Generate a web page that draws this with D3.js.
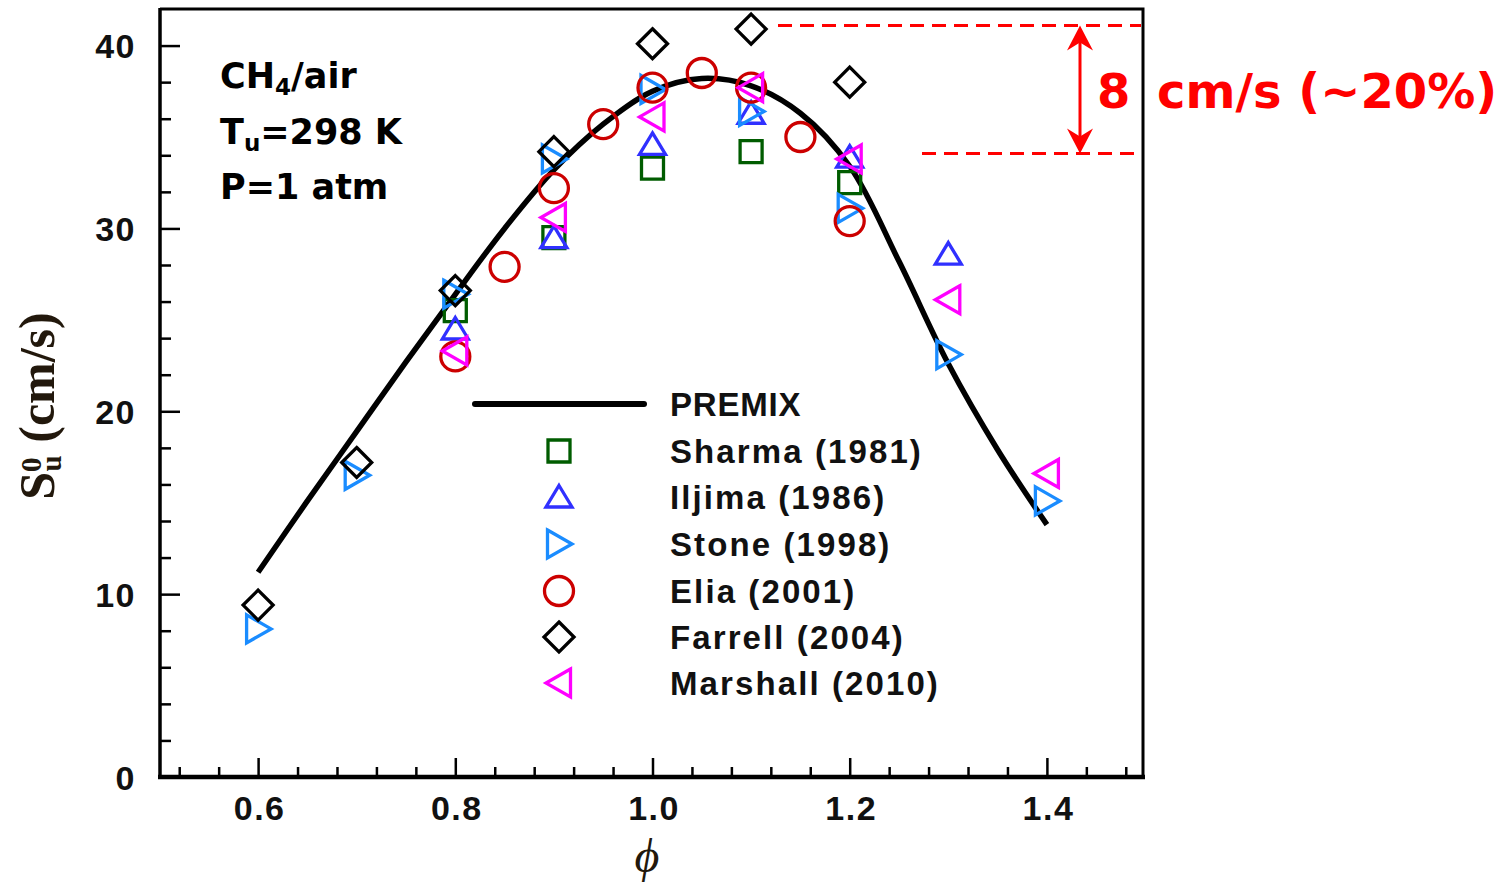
<!DOCTYPE html>
<html>
<head>
<meta charset="utf-8">
<script src="https://cdn.jsdelivr.net/npm/d3@7"></script>
<style>
  html, body { margin: 0; padding: 0; background: #fff; }
  svg { display: block; }
</style>
</head>
<body>
<svg id="chart" width="1506" height="885"></svg>
<script>
// Laminar burning velocity of CH4/air, Tu = 298 K, P = 1 atm

// PREMIX calculation
const premixPhi = [0.60, 0.65, 0.70, 0.75, 0.80, 0.85, 0.90, 0.95, 1.00, 1.05, 1.10, 1.15, 1.20, 1.25, 1.30, 1.35, 1.40];
const premixSu  = [11.2, 15.1, 18.9, 22.7, 26.4, 30.0, 33.2, 35.7, 37.5, 38.2, 37.8, 36.3, 33.4, 28.2, 22.6, 17.9, 13.8];

// Measurements
const sharmaPhi   = [0.8, 0.9, 1.0, 1.1, 1.2];
const sharmaSu    = [25.5, 29.5, 33.3, 34.2, 32.5];
const iijimaPhi   = [0.8, 0.9, 1.0, 1.1, 1.2, 1.3];
const iijimaSu    = [24.5, 29.5, 34.6, 36.3, 33.9, 28.6];
const stonePhi    = [0.6, 0.7, 0.8, 0.9, 1.0, 1.1, 1.2, 1.3, 1.4];
const stoneSu     = [8.1, 16.5, 26.4, 33.8, 37.6, 36.4, 31.1, 23.1, 15.1];
const eliaPhi     = [0.8, 0.85, 0.9, 0.95, 1.0, 1.05, 1.1, 1.15, 1.2];
const eliaSu      = [23.0, 27.9, 32.2, 35.7, 37.7, 38.5, 37.7, 35.0, 30.4];
const farrellPhi  = [0.6, 0.7, 0.8, 0.9, 1.0, 1.1, 1.2];
const farrellSu   = [9.4, 17.2, 26.6, 34.2, 40.1, 40.9, 38.0];
const marshallPhi = [0.8, 0.9, 1.0, 1.1, 1.2, 1.3, 1.4];
const marshallSu  = [23.3, 30.6, 36.1, 37.7, 33.8, 26.1, 16.6];

const seriesNames = ["Sharma (1981)", "Iljima (1986)", "Stone (1998)", "Elia (2001)", "Farrell (2004)", "Marshall (2010)"];
const lineName = "PREMIX";

// Axis ticks
const xMajorTicks = [0.6, 0.8, 1.0, 1.2, 1.4];
const xTickLabels = ["0.6", "0.8", "1.0", "1.2", "1.4"];
const yMajorTicks = [0, 10, 20, 30, 40];

// Scatter spread annotation (cm/s)
const spreadTop = 41.1;
const spreadBottom = 34.1;
const spreadLabelNum = "8 ";
const spreadLabelRest = "cm/s (~20%)";

// ---------------------------------------------------------------
const svg = d3.select("#chart");
const x = d3.scaleLinear().domain([0.5, 1.5]).range([159.5, 1145.5]);
const y = d3.scaleLinear().domain([0, 42]).range([777, 9]);
const frameL = 160, frameR = 1143, frameT = 9, frameB = 777;

const zip = (a, b) => a.map((v, i) => [v, b[i]]);

// marker shapes (centred on the point)
const shapes = {
  square:   "M-11,-11H11V11H-11Z",
  triUp:    "M0,-11.5L13,10L-13,10Z",
  triRight: "M-11.5,-14L13,0L-11.5,14Z",
  circle:   d3.arc()({innerRadius: 0, outerRadius: 14.5, startAngle: 0, endAngle: 2 * Math.PI}),
  diamond:  "M0,-15L15,0L0,15L-15,0Z",
  triLeft:  "M11.5,-14L-13,0L11.5,14Z"
};

const series = [
  {name: seriesNames[0], data: zip(sharmaPhi, sharmaSu),     shape: "square",   color: "#005c00"},
  {name: seriesNames[1], data: zip(iijimaPhi, iijimaSu),     shape: "triUp",    color: "#3030ff"},
  {name: seriesNames[2], data: zip(stonePhi, stoneSu),       shape: "triRight", color: "#1a8cff"},
  {name: seriesNames[3], data: zip(eliaPhi, eliaSu),         shape: "circle",   color: "#cc0000"},
  {name: seriesNames[4], data: zip(farrellPhi, farrellSu),   shape: "diamond",  color: "#000000"},
  {name: seriesNames[5], data: zip(marshallPhi, marshallSu), shape: "triLeft",  color: "#ff00ff"}
];

const tickFont = "'Liberation Sans', Arial, sans-serif";
const boxFont = "'DejaVu Sans', Verdana, sans-serif";
const markerStroke = 3.3;

// --- ticks (inside the frame) -----------------------------------
const xMinor = d3.range(0.52, 1.4801, 0.04).filter(v => !xMajorTicks.some(m => Math.abs(m - v) < 1e-6));
const yMinor = d3.range(2, 42, 2).filter(v => v % 10 !== 0);

const xAxisMajor = d3.axisBottom(x).tickValues(xMajorTicks).tickSize(-19).tickFormat((d, i) => xTickLabels[i]).tickPadding(19);
const xAxisMinor = d3.axisBottom(x).tickValues(xMinor).tickSize(-10).tickFormat("");
const yAxisMajor = d3.axisLeft(y).tickValues(yMajorTicks).tickSize(-20).tickFormat(d3.format("d")).tickPadding(24);
const yAxisMinor = d3.axisLeft(y).tickValues(yMinor).tickSize(-11).tickFormat("");

function styleAxis(g) {
  g.select(".domain").remove();
  g.selectAll(".tick line").attr("stroke", "#000").attr("stroke-width", 2.5);
  g.selectAll(".tick text")
    .attr("fill", "#111")
    .style("font-family", tickFont)
    .style("font-weight", "bold")
    .style("font-size", "34px")
    .style("letter-spacing", "1.5px");
}

svg.append("g").attr("transform", `translate(0,${frameB})`).call(xAxisMinor).call(styleAxis);
svg.append("g").attr("transform", `translate(0,${frameB})`).call(xAxisMajor).call(styleAxis)
  .selectAll(".tick text").attr("dy", "0.71em").attr("dx", "1px");
svg.append("g").attr("transform", `translate(${frameL},0)`).call(yAxisMinor).call(styleAxis);
svg.append("g").attr("transform", `translate(${frameL},0)`).call(yAxisMajor).call(styleAxis)
  .selectAll(".tick text").attr("dy", "0.36em");

// --- PREMIX curve -------------------------------------------------
const line = d3.line().x(d => x(d[0])).y(d => y(d[1])).curve(d3.curveCatmullRom.alpha(0.5));
svg.append("path")
  .datum(zip(premixPhi, premixSu))
  .attr("d", line)
  .attr("fill", "none")
  .attr("stroke", "#000")
  .attr("stroke-width", 5.5)
  .attr("stroke-linecap", "butt");

// --- measurement markers ------------------------------------------
series.forEach(s => {
  svg.append("g").selectAll("path")
    .data(s.data)
    .join("path")
    .attr("transform", d => `translate(${x(d[0])},${y(d[1])})`)
    .attr("d", shapes[s.shape])
    .attr("fill", "none")
    .attr("stroke", s.color)
    .attr("stroke-width", markerStroke);
});

// --- legend --------------------------------------------------------
const legend = svg.append("g");
const legTextX = 670, legMarkX = 559;
const legRowY = [404, 451, 497, 544, 591, 637, 683];

legend.append("line")
  .attr("x1", 475).attr("x2", 644).attr("y1", legRowY[0]).attr("y2", legRowY[0])
  .attr("stroke", "#000").attr("stroke-width", 6).attr("stroke-linecap", "round");

const legendRows = [{name: lineName}].concat(series);
legend.selectAll("text")
  .data(legendRows)
  .join("text")
  .attr("x", legTextX)
  .attr("y", (d, i) => legRowY[i] + 12)
  .attr("fill", "#111")
  .style("font-family", tickFont)
  .style("font-weight", "bold")
  .style("font-size", "33px")
  .style("letter-spacing", (d, i) => i === 0 ? "0.8px" : "2.1px")
  .text(d => d.name);

legend.selectAll("path.mk")
  .data(series)
  .join("path")
  .attr("class", "mk")
  .attr("transform", (d, i) => `translate(${legMarkX},${legRowY[i + 1]})`)
  .attr("d", d => shapes[d.shape])
  .attr("fill", "none")
  .attr("stroke", d => d.color)
  .attr("stroke-width", markerStroke);

// --- conditions text -------------------------------------------------
const cond = svg.append("g")
  .style("font-family", boxFont)
  .style("font-weight", "bold")
  .style("font-size", "35px")
  .attr("fill", "#000");
const t1 = cond.append("text").attr("x", 220).attr("y", 88);
t1.append("tspan").text("CH");
t1.append("tspan").attr("baseline-shift", "-30%").style("font-size", "23px").text("4");
t1.append("tspan").text("/air");
const t2 = cond.append("text").attr("x", 220).attr("y", 144);
t2.append("tspan").text("T");
t2.append("tspan").attr("baseline-shift", "-30%").style("font-size", "23px").text("u");
t2.append("tspan").text("=298 K");
cond.append("text").attr("x", 220).attr("y", 199).text("P=1 atm");

// --- axis titles -------------------------------------------------------
const axisTitleColor = "#22180c";
const yTitle = svg.append("text")
  .attr("transform", `translate(54,406) rotate(-90)`)
  .attr("text-anchor", "middle")
  .attr("fill", axisTitleColor)
  .style("font-family", "'Liberation Serif', 'Times New Roman', serif")
  .style("font-weight", "bold")
  .style("font-size", "50px");
yTitle.append("tspan").text("S");
yTitle.append("tspan").attr("baseline-shift", "45%").style("font-size", "29px").text("0");
yTitle.append("tspan").attr("dx", "-14px").attr("baseline-shift", "-25%").style("font-size", "29px").text("u");
yTitle.append("tspan").text(" (cm/s)");

svg.append("text")
  .attr("x", 647).attr("y", 872)
  .attr("text-anchor", "middle")
  .attr("fill", axisTitleColor)
  .style("font-family", "'Liberation Serif', 'Times New Roman', serif")
  .style("font-style", "italic")
  .style("font-size", "48px")
  .text("\u03D5");

// --- spread annotation --------------------------------------------------
const red = "#ff0000";
const ann = svg.append("g");
const yTop = y(spreadTop), yBot = y(spreadBottom);
ann.append("line").attr("x1", 778).attr("x2", frameR - 2).attr("y1", yTop).attr("y2", yTop)
  .attr("stroke", red).attr("stroke-width", 3).attr("stroke-dasharray", "14,8");
ann.append("line").attr("x1", 922).attr("x2", frameR - 2).attr("y1", yBot).attr("y2", yBot)
  .attr("stroke", red).attr("stroke-width", 3).attr("stroke-dasharray", "14,8");
const ax = 1080;
ann.append("line").attr("x1", ax).attr("x2", ax).attr("y1", yTop + 10).attr("y2", yBot - 10)
  .attr("stroke", red).attr("stroke-width", 3);
// arrow heads
ann.append("path")
  .attr("d", `M${ax},${yTop}L${ax + 13},${yTop + 25}L${ax},${yTop + 17}L${ax - 13},${yTop + 25}Z`)
  .attr("fill", red);
ann.append("path")
  .attr("d", `M${ax},${yBot}L${ax + 13},${yBot - 25}L${ax},${yBot - 17}L${ax - 13},${yBot - 25}Z`)
  .attr("fill", red);
const lab = ann.append("text")
  .attr("y", 108)
  .attr("fill", red)
  .style("font-family", boxFont)
  .style("font-weight", "bold")
  .style("font-size", "48px");
lab.append("tspan").attr("x", 1097).text(spreadLabelNum);
lab.append("tspan").attr("x", 1157).text(spreadLabelRest);

// --- frame ---------------------------------------------------------------
svg.append("path")
  .attr("d", `M${frameL},${frameT}H${frameR}V${frameB}`)
  .attr("fill", "none").attr("stroke", "#000").attr("stroke-width", 3);
svg.append("line").attr("x1", frameL).attr("x2", frameL).attr("y1", frameT - 1).attr("y2", frameB + 2)
  .attr("stroke", "#000").attr("stroke-width", 3.5);
svg.append("line").attr("x1", frameL - 2).attr("x2", frameR + 2).attr("y1", frameB).attr("y2", frameB)
  .attr("stroke", "#000").attr("stroke-width", 4.5);
</script>
</body>
</html>
